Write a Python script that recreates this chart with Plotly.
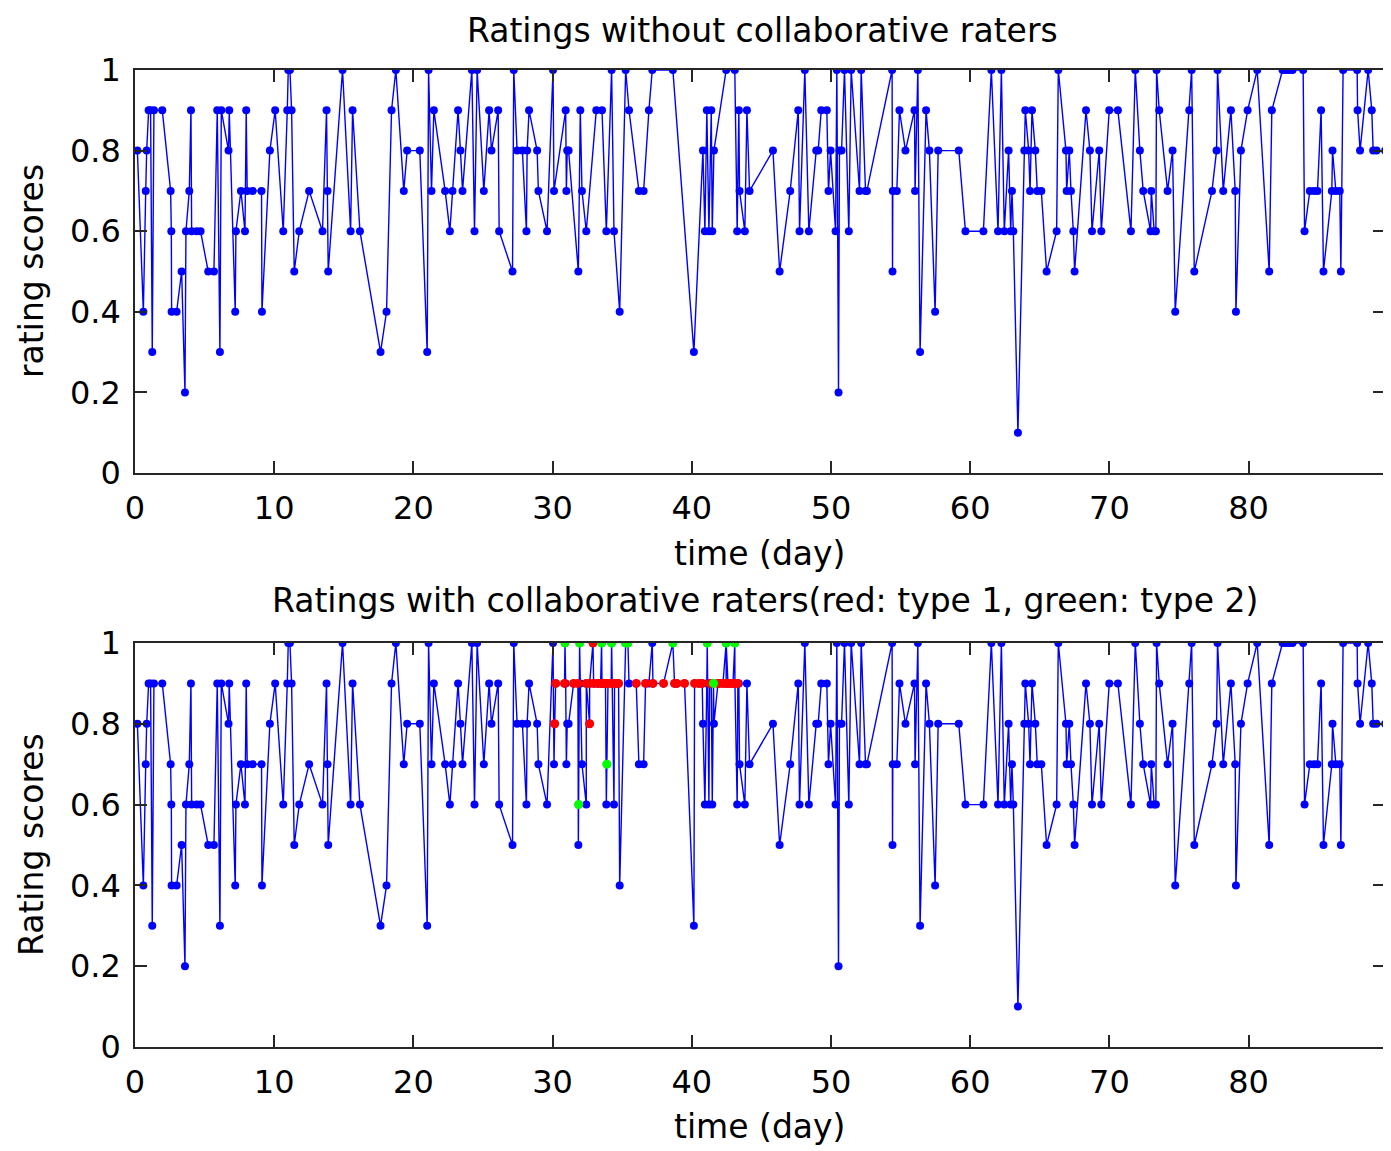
import plotly.graph_objects as go

# ---------------- data ----------------
days = [
    0.17, 0.60, 0.77, 0.84, 0.98, 1.12, 1.24, 1.36, 1.96, 2.56, 2.61, 2.63, 2.99, 3.35, 3.59, 3.66,
    3.90, 4.02, 4.07, 4.43, 4.71, 5.26, 5.67, 5.91, 6.10, 6.20, 6.72, 6.77, 7.20, 7.25, 7.61, 7.90,
    7.99, 8.06, 8.45, 9.09, 9.12, 9.69, 10.07, 10.65, 10.94, 11.01, 11.13, 11.25, 11.44, 11.80, 12.51,
    13.47, 13.76, 13.83, 13.88, 14.91,
    15.49, 15.63, 16.16, 17.64, 18.07, 18.43, 18.74, 19.31, 19.55, 20.46, 20.99, 21.09, 21.30, 21.47,
    22.28, 22.62, 22.81, 23.21, 23.38, 23.53, 24.20, 24.39, 24.58, 25.06, 25.44, 25.61, 26.09, 26.16,
    27.12, 27.21, 27.45, 27.83, 28.12, 28.17, 28.31, 28.89, 28.98, 29.60, 30.03,
    30.10, 30.94, 30.99, 31.05, 31.15, 31.85, 31.99, 32.11, 32.42, 33.14, 33.55, 33.86, 34.24, 34.41,
    34.82, 35.25, 35.49, 36.20, 36.54, 36.92, 37.16, 38.64, 40.15, 40.80, 40.94, 41.08, 41.23, 41.40,
    41.47, 41.59, 42.47, 43.09, 43.26, 43.38, 43.43, 43.81, 43.96, 44.15,
    45.83, 46.31, 47.07, 47.65, 47.74, 48.12, 48.41, 48.94, 49.08, 49.30, 49.70, 49.82, 49.97, 50.33,
    50.42, 50.54, 50.61, 50.76, 50.97, 51.28, 51.45, 52.05, 52.17, 52.48, 52.58, 54.39, 54.42, 54.44,
    54.73, 54.92, 55.35, 56.00, 56.04, 56.24, 56.40, 56.83, 57.07, 57.48, 57.70, 59.18, 59.66,
    60.95, 61.52, 62.00, 62.24, 62.45, 62.76, 62.91, 63.00, 63.10, 63.43, 63.89, 63.96, 64.20, 64.30,
    64.44, 64.68, 64.82, 65.11, 65.49, 66.21, 66.33, 66.88, 66.93, 67.12, 67.24, 67.41, 67.50, 68.32,
    68.60, 68.75, 69.27, 69.42, 69.99, 70.61, 71.55, 71.86, 72.19, 72.43, 72.96, 73.01, 73.22, 73.34,
    73.39, 73.58, 74.18, 74.54, 74.73,
    75.74, 75.91, 76.10, 77.37, 77.70, 77.77, 78.18, 78.73, 79.04, 79.09, 79.45, 79.93, 80.62, 81.48,
    81.67, 82.44, 82.68, 82.92, 83.16, 83.92, 84.02, 84.40, 84.71, 84.95, 85.21, 85.38, 85.98, 86.03,
    86.27, 86.55, 86.63, 86.79, 87.80, 87.83, 88.01, 88.59, 88.85, 88.95, 89.19, 89.81,
]
scores = [
    0.8, 0.4, 0.7, 0.8, 0.9, 0.9, 0.3, 0.9, 0.9, 0.7, 0.6, 0.4, 0.4, 0.5, 0.2, 0.6,
    0.7, 0.9, 0.6, 0.6, 0.6, 0.5, 0.5, 0.9, 0.3, 0.9, 0.8, 0.9, 0.4, 0.6, 0.7, 0.6,
    0.9, 0.7, 0.7, 0.7, 0.4, 0.8, 0.9, 0.6, 0.9, 1.0, 1.0, 0.9, 0.5, 0.6, 0.7,
    0.6, 0.9, 0.7, 0.5, 1.0,
    0.6, 0.9, 0.6, 0.3, 0.4, 0.9, 1.0, 0.7, 0.8, 0.8, 0.3, 1.0, 0.7, 0.9,
    0.7, 0.6, 0.7, 0.9, 0.8, 0.7, 1.0, 0.6, 1.0, 0.7, 0.9, 0.8, 0.9, 0.6,
    0.5, 1.0, 0.8, 0.8, 0.6, 0.8, 0.9, 0.8, 0.7, 0.6, 1.0,
    0.7, 0.9, 0.7, 0.8, 0.8, 0.5, 0.9, 0.7, 0.6, 0.9, 0.9, 0.6, 1.0, 0.6,
    0.4, 1.0, 0.9, 0.7, 0.7, 0.9, 1.0, 1.0, 0.3, 0.8, 0.6, 0.9, 0.6, 0.9,
    0.6, 0.8, 1.0, 1.0, 0.6, 0.9, 0.7, 0.6, 0.9, 0.7,
    0.8, 0.5, 0.7, 0.9, 0.6, 1.0, 0.6, 0.8, 0.8, 0.9, 0.9, 0.7, 0.8, 0.6,
    1.0, 0.2, 0.8, 0.8, 1.0, 0.6, 1.0, 0.7, 1.0, 0.7, 0.7, 1.0, 0.5, 0.7,
    0.7, 0.9, 0.8, 0.9, 0.7, 1.0, 0.3, 0.9, 0.8, 0.4, 0.8, 0.8, 0.6,
    0.6, 1.0, 0.6, 1.0, 0.6, 0.8, 0.6, 0.7, 0.6, 0.1, 0.8, 0.9, 0.8, 0.7,
    0.9, 0.8, 0.7, 0.7, 0.5, 0.6, 1.0, 0.8, 0.7, 0.8, 0.7, 0.6, 0.5, 0.9,
    0.8, 0.6, 0.8, 0.6, 0.9, 0.9, 0.6, 1.0, 0.8, 0.7, 0.6, 0.7, 0.6, 0.6,
    1.0, 0.9, 0.7, 0.8, 0.4,
    0.9, 1.0, 0.5, 0.7, 0.8, 1.0, 0.7, 0.9, 0.7, 0.4, 0.8, 0.9, 1.0, 0.5,
    0.9, 1.0, 1.0, 1.0, 1.0, 1.0, 0.6, 0.7, 0.7, 0.7, 0.9, 0.5, 0.7, 0.8,
    0.7, 0.7, 0.5, 1.0, 1.0, 0.9, 0.8, 1.0, 0.9, 0.8, 0.8, 0.8,
]

# collaborative raters, type 1 (red)
red_days = [
    30.15, 32.66, 32.90,
    30.22, 30.86, 31.51, 31.82, 32.42, 32.66, 32.95, 33.26, 33.45, 33.62, 33.80, 33.98, 34.21,
    34.45, 34.60, 34.74, 36.01, 36.68, 37.21, 37.97, 38.76, 38.93, 39.48, 40.20, 40.51, 40.75,
    41.28, 41.88, 41.99, 42.24, 42.47, 42.60, 42.76, 42.96, 43.10, 43.31,
]
red_scores = [
    0.8, 0.8, 1.0,
    0.9, 0.9, 0.9, 0.9, 0.9, 0.9, 0.9, 0.9, 0.9, 0.9, 0.9, 0.9, 0.9,
    0.9, 0.9, 0.9, 0.9, 0.9, 0.9, 0.9, 0.9, 0.9, 0.9, 0.9, 0.9, 0.9,
    0.9, 0.9, 0.9, 0.9, 0.9, 0.9, 0.9, 0.9, 0.9, 0.9,
]
# collaborative raters, type 2 (green)
green_days = [30.89, 31.94, 33.52, 34.24, 35.24, 35.41, 38.64, 41.11, 42.47, 43.09, 41.56, 33.90, 31.87]
green_scores = [1.0, 1.0, 1.0, 1.0, 1.0, 1.0, 1.0, 1.0, 1.0, 1.0, 0.9, 0.7, 0.6]

x_ticks = [0, 10, 20, 30, 40, 50, 60, 70, 80]
x_labels = ["0", "10", "20", "30", "40", "50", "60", "70", "80"]
y_ticks = [0, 0.2, 0.4, 0.6, 0.8, 1.0]
y_labels = ["0", "0.2", "0.4", "0.6", "0.8", "1"]

# all ratings in the second panel (honest + collaborative), in time order
merged = sorted(zip(days + red_days + green_days, scores + red_scores + green_scores),
                key=lambda p: p[0])
all_days = [p[0] for p in merged]
all_scores = [p[1] for p in merged]

# ---------------- figure ----------------
BLUE = "#0000ff"
FONT = "DejaVu Sans"
OFF = 8                      # the page body adds an 8 px margin around the figure
W, H = 1391 - OFF, 1151 - OFF
ML, MR, MT, MB = 135 - OFF, 6, 70 - OFF, 104
PH = H - MT - MB


def py(px):
    """page pixel (y) -> paper coordinate"""
    return (H - MB - (px - OFF)) / PH


def px_x(px):
    """page pixel (x) -> paper coordinate"""
    return ((px - OFF) - ML) / (W - ML - MR)


fig = go.Figure()
fig.add_trace(go.Scatter(x=days, y=scores, mode="lines+markers",
                         line=dict(color=BLUE, width=1.4),
                         marker=dict(color=BLUE, size=8),
                         xaxis="x", yaxis="y", showlegend=False))
fig.add_trace(go.Scatter(x=all_days, y=all_scores, mode="lines+markers",
                         line=dict(color=BLUE, width=1.4),
                         marker=dict(color=BLUE, size=8),
                         xaxis="x2", yaxis="y2", showlegend=False))
fig.add_trace(go.Scatter(x=red_days, y=red_scores, mode="markers",
                         marker=dict(color="#ff0000", size=9),
                         xaxis="x2", yaxis="y2", showlegend=False))
fig.add_trace(go.Scatter(x=green_days, y=green_scores, mode="markers",
                         marker=dict(color="#00ff00", size=9),
                         xaxis="x2", yaxis="y2", showlegend=False))

axis_common = dict(showline=True, linecolor="#262626", linewidth=1.5, mirror="ticks",
                   ticks="inside", ticklen=12, tickwidth=1.5, tickcolor="#262626",
                   showgrid=False, zeroline=False, automargin=False,
                   tickfont=dict(family=FONT, size=32, color="black"))

fig.update_layout(
    width=W, height=H,
    margin=dict(l=ML, r=MR, t=MT, b=MB, autoexpand=False),
    paper_bgcolor="white", plot_bgcolor="white",
    xaxis=dict(domain=[0, 1], range=[0, 89.8], tickvals=x_ticks, ticktext=x_labels,
               anchor="y", ticklabelstandoff=6, **axis_common),
    yaxis=dict(domain=[py(473), 1], range=[0, 1], tickvals=y_ticks, ticktext=y_labels,
               anchor="x", ticklabelstandoff=6, **axis_common),
    xaxis2=dict(domain=[0, 1], range=[0, 89.8], tickvals=x_ticks, ticktext=x_labels,
                anchor="y2", ticklabelstandoff=6, **axis_common),
    yaxis2=dict(domain=[0, py(643)], range=[0, 1], tickvals=y_ticks, ticktext=y_labels,
                anchor="x2", ticklabelstandoff=6, **axis_common),
)

text_font = dict(family=FONT, size=33, color="black")
annos = [
    dict(text="Ratings without collaborative raters", x=px_x(762), y=py(30)),
    dict(text="time (day)", x=px_x(760), y=py(553)),
    dict(text="Ratings with collaborative raters(red: type 1, green: type 2)", x=px_x(765), y=py(600)),
    dict(text="time (day)", x=px_x(760), y=py(1126)),
]
for a in annos:
    fig.add_annotation(xref="paper", yref="paper", xanchor="center", yanchor="middle",
                       showarrow=False, font=text_font, **a)
fig.add_annotation(text="rating scores", xref="paper", yref="paper", x=px_x(31), y=py(271),
                   textangle=-90, xanchor="center", yanchor="middle", showarrow=False,
                   font=text_font)
fig.add_annotation(text="Rating scores", xref="paper", yref="paper", x=px_x(31), y=py(845),
                   textangle=-90, xanchor="center", yanchor="middle", showarrow=False,
                   font=text_font)

fig.write_html("out.html")
